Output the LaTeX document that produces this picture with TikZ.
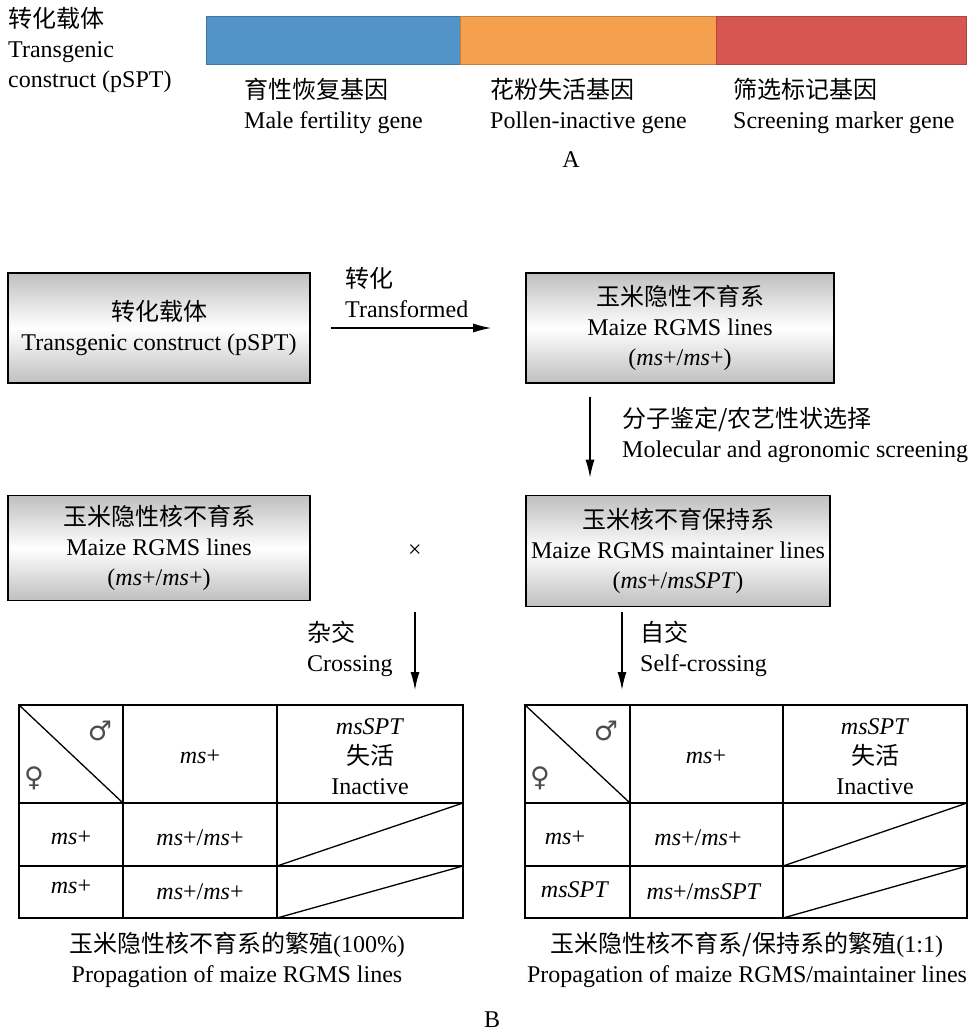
\documentclass[tikz,border=0pt]{standalone}
\usepackage{fontspec}
\setmainfont{Liberation Serif}
\newfontfamily\cjk{Noto Sans CJK SC}
\newfontfamily\sym{DejaVu Sans}
\usetikzlibrary{arrows.meta}
\definecolor{genblue}{RGB}{82,148,201}
\definecolor{genorange}{RGB}{245,160,76}
\definecolor{genred}{RGB}{216,86,82}

\begin{document}
\begin{tikzpicture}[x=1pt,y=-1pt,
  every node/.style={font=\fontsize{24}{30}\selectfont},
  box/.style={draw=black,line width=1.6pt,top color=gray!50,bottom color=gray!50,middle color=white,minimum width=302pt,minimum height=110pt,align=center,inner sep=2pt},
  lab/.style={align=left,inner sep=0pt},
  arr/.style={line width=1.4pt,-{Latex[length=18pt,width=9pt]}},
  grid/.style={line width=1.3pt},
  sex/.style={font=\fontsize{27}{30}\selectfont\sym,text=black!70}]
                \useasboundingbox (0,0) rectangle (968,1032);

                % A: transgenic construct
                \node[lab, anchor=west] (vec) at (8,50) {{\cjk 转化载体}\\Transgenic\\construct (pSPT)};
                \draw[line width=1pt, fill=genblue, draw=genblue!80!black] (206,17) rectangle (460,65);
                \draw[line width=1pt, fill=genorange, draw=genorange!80!black] (460,17) rectangle (716,65);
                \draw[line width=1pt, fill=genred, draw=genred!80!black] (716,17) rectangle (966,65);
                \node[lab, anchor=west] (g1) at (244,106) {{\cjk 育性恢复基因}\\Male fertility gene};
                \node[lab, anchor=west] (g2) at (490,106) {{\cjk 花粉失活基因}\\Pollen-inactive gene};
                \node[lab, anchor=west] (g3) at (733,106) {{\cjk 筛选标记基因}\\Screening marker gene};
                \node (pa) at (571,160) {A};

                % B: breeding scheme
                \node[box] (b1) at (159,328) {{\cjk 转化载体}\\Transgenic construct (pSPT)};
                \node[box, minimum width=308pt] (b2) at (680,328) {{\cjk 玉米隐性不育系}\\Maize RGMS lines\\(\textit{ms}+/\textit{ms}+)};
                \node[box, minimum height=105pt] (b3) at (159,548) {{\cjk 玉米隐性核不育系}\\Maize RGMS lines\\(\textit{ms}+/\textit{ms}+)};
                \node[box, minimum width=304pt, minimum height=111pt] (b4) at (678,551) {{\cjk 玉米核不育保持系}\\Maize RGMS maintainer lines\\(\textit{ms}+/\textit{msSPT})};
                \node (x) at (415,551) {×};

                \draw[arr] ([xshift=20pt]b1.east) -- ([xshift=-34pt]b2.west);
                \node[lab, anchor=west] (l1) at (345,293) {{\cjk 转化}\\Transformed};
                \draw[arr] ([xshift=-90pt,yshift=-13pt]b2.south) -- ([xshift=-88pt,yshift=17pt]b4.north);
                \node[lab, anchor=west] (l2) at (622,435) {{\cjk 分子鉴定/农艺性状选择}\\Molecular and agronomic screening};

                \coordinate (c1) at (415,612);
                \coordinate (c2) at (415,690);
                \coordinate (s1) at (622,612);
                \coordinate (s2) at (622,690);
                \draw[arr] (c1) -- (c2);
                \draw[arr] (s1) -- (s2);
                \node[lab, anchor=west] (l3) at (307,649) {{\cjk 杂交}\\Crossing};
                \node[lab, anchor=west] (l4) at (640,649) {{\cjk 自交}\\Self-crossing};

                % left table
                \draw[grid] (19,705) rectangle (463,918);
                \draw[grid] (123,705) -- (123,918) (277,705) -- (277,918) (19,803) -- (463,803) (19,866) -- (463,866);
                \draw[grid] (19,705) -- (123,803) (277,866) -- (463,803) (277,918) -- (463,866);
                \node[sex] (m1) at (100,731) {♂};
                \node[sex] (f1) at (34,778) {♀};
                \node (h11) at (200,757) {\textit{ms}+};
                \node[align=center] (h12) at (370,757) {\textit{msSPT}\\{\cjk 失活}\\Inactive};
                \node (r11) at (71,838) {\textit{ms}+};
                \node (r12) at (200,838) {\textit{ms}+/\textit{ms}+};
                \node (r21) at (71,887) {\textit{ms}+};
                \node (r22) at (200,892) {\textit{ms}+/\textit{ms}+};
                \node[align=center] (cap1) at (237,960) {{\cjk 玉米隐性核不育系的繁殖}(100\%)\\Propagation of maize RGMS lines};

                % right table
                \draw[grid] (525,705) rectangle (967,918);
                \draw[grid] (630,705) -- (630,918) (783,705) -- (783,918) (525,803) -- (967,803) (525,866) -- (967,866);
                \draw[grid] (525,705) -- (630,803) (783,866) -- (967,803) (783,918) -- (967,866);
                \node[sex] (m2) at (606,731) {♂};
                \node[sex] (f2) at (540,778) {♀};
                \node (h21) at (706,757) {\textit{ms}+};
                \node[align=center] (h22) at (875,757) {\textit{msSPT}\\{\cjk 失活}\\Inactive};
                \node (q11) at (565,838) {\textit{ms}+};
                \node (q12) at (698,838) {\textit{ms}+/\textit{ms}+};
                \node (q21) at (575,890) {\textit{msSPT}};
                \node (q22) at (704,892) {\textit{ms}+/\textit{msSPT}};
                \node[align=center] (cap2) at (747,960) {{\cjk 玉米隐性核不育系/保持系的繁殖}(1:1)\\Propagation of maize RGMS/maintainer lines};

                \node (pb) at (492,1020) {B};
            \end{tikzpicture}
\end{document}
